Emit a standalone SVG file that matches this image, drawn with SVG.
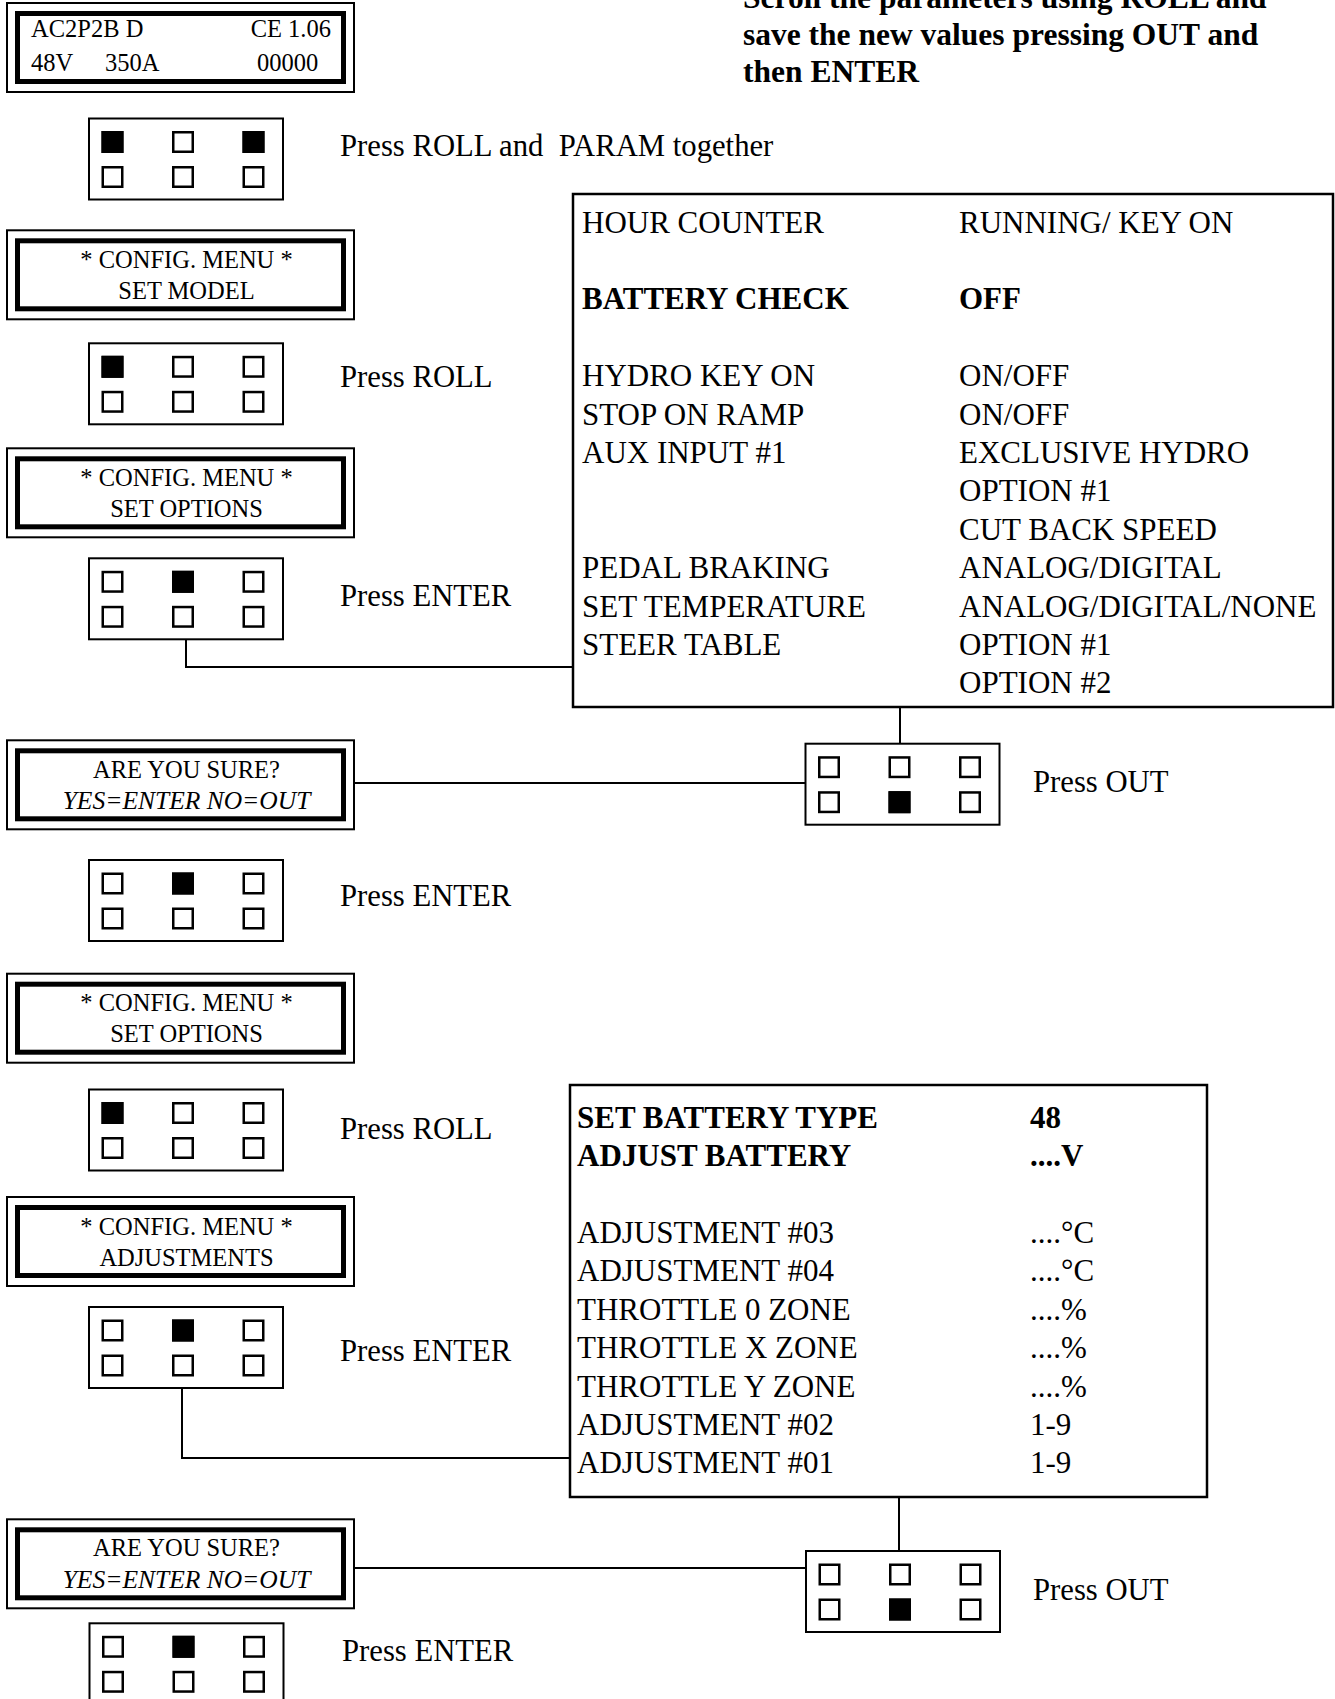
<svg xmlns="http://www.w3.org/2000/svg" xmlns:xlink="http://www.w3.org/1999/xlink" width="1335" height="1699" viewBox="0 0 1335 1699">
<style>
.t{font-family:"Liberation Serif","Times New Roman",serif;fill:#000}
.lcd{font-size:24.5px;text-anchor:middle}
.lcd1{font-size:24.5px}
.it{font-style:italic;font-size:25.5px}
.lbl{font-size:30.7px}
.hdr{font-size:31.5px;font-weight:bold}
.tb{font-size:31px}
.tb2{font-size:31px}
.b{font-weight:bold}
.thin{fill:none;stroke:#000;stroke-width:2}
.thick{fill:none;stroke:#000;stroke-width:5}
.sq{fill:#fff;stroke:#000;stroke-width:2.5}
.on{fill:#000}
.box{fill:#fff;stroke:#000;stroke-width:2.5}
.conn{fill:none;stroke:#000;stroke-width:2}
</style>
<defs>
<g id="lcdframe">
<rect class="thin" x="7" y="1" width="347" height="89"/>
<rect class="thick" x="17.5" y="11.5" width="326" height="68"/>
</g>
<g id="pad">
<rect class="thin" x="1" y="1" width="194" height="81" fill="#fff"/>
<rect class="sq" x="14.75" y="14.75" width="19.5" height="19.5"/>
<rect class="sq" x="85.25" y="14.75" width="19.5" height="19.5"/>
<rect class="sq" x="155.75" y="14.75" width="19.5" height="19.5"/>
<rect class="sq" x="14.75" y="49.75" width="19.5" height="19.5"/>
<rect class="sq" x="85.25" y="49.75" width="19.5" height="19.5"/>
<rect class="sq" x="155.75" y="49.75" width="19.5" height="19.5"/>
</g>
</defs>
<rect width="1335" height="1699" fill="#fff"/>

<g id="connectors">
<path class="conn" d="M186 640 V667 H573"/>
<path class="conn" d="M900 707 V743"/>
<path class="conn" d="M354 783 H805"/>
<path class="conn" d="M182 1389 V1458 H570"/>
<path class="conn" d="M899 1497 V1550"/>
<path class="conn" d="M354 1568 H805"/>
</g>

<g id="header" class="t hdr">
<text x="743" y="8">Scroll the parameters using ROLL and</text>
<text x="743" y="45">save the new values pressing OUT and</text>
<text x="743" y="82">then ENTER</text>
</g>

<g id="lcd1">
<use xlink:href="#lcdframe" href="#lcdframe" y="2"/>
<text class="t lcd1" x="31" y="37">AC2P2B D</text>
<text class="t lcd1" x="331" y="37" text-anchor="end">CE 1.06</text>
<text class="t lcd1" x="31" y="71">48V</text>
<text class="t lcd1" x="105" y="71">350A</text>
<text class="t lcd1" x="257" y="71">00000</text>
</g>

<g id="pad1">
<use xlink:href="#pad" href="#pad" x="88" y="117.5"/>
<rect class="on" x="101.5" y="131" width="22" height="22"/>
<rect class="on" x="242.5" y="131" width="22" height="22"/>
<text class="t lbl" x="340" y="156" xml:space="preserve" style="white-space:pre">Press ROLL and  PARAM together</text>
</g>

<g id="lcd2">
<use xlink:href="#lcdframe" href="#lcdframe" y="229.3"/>
<text class="t lcd" x="186.5" y="267.8">* CONFIG. MENU *</text>
<text class="t lcd" x="186.5" y="298.8">SET MODEL</text>
</g>

<g id="pad2">
<use xlink:href="#pad" href="#pad" x="88" y="342.3"/>
<rect class="on" x="101.5" y="355.8" width="22" height="22"/>
<text class="t lbl" x="340" y="387">Press ROLL</text>
</g>

<g id="lcd3">
<use xlink:href="#lcdframe" href="#lcdframe" y="447.3"/>
<text class="t lcd" x="186.5" y="485.8">* CONFIG. MENU *</text>
<text class="t lcd" x="186.5" y="516.8">SET OPTIONS</text>
</g>

<g id="pad3">
<use xlink:href="#pad" href="#pad" x="88" y="557.3"/>
<rect class="on" x="172" y="570.8" width="22" height="22"/>
<text class="t lbl" x="340" y="606">Press ENTER</text>
</g>

<g id="table1">
<rect class="box" x="573" y="194" width="760" height="513"/>
<g class="t tb">
<text x="582" y="232.5">HOUR COUNTER</text>
<text x="959" y="232.5">RUNNING/ KEY ON</text>
<text x="582" y="309.3" class="b">BATTERY CHECK</text>
<text x="959" y="309.3" class="b">OFF</text>
<text x="582" y="386.1">HYDRO KEY ON</text>
<text x="959" y="386.1">ON/OFF</text>
<text x="582" y="424.5">STOP ON RAMP</text>
<text x="959" y="424.5">ON/OFF</text>
<text x="582" y="462.9">AUX INPUT #1</text>
<text x="959" y="462.9">EXCLUSIVE HYDRO</text>
<text x="959" y="501.3">OPTION #1</text>
<text x="959" y="539.7">CUT BACK SPEED</text>
<text x="582" y="578.1">PEDAL BRAKING</text>
<text x="959" y="578.1">ANALOG/DIGITAL</text>
<text x="582" y="616.5">SET TEMPERATURE</text>
<text x="959" y="616.5">ANALOG/DIGITAL/NONE</text>
<text x="582" y="654.9">STEER TABLE</text>
<text x="959" y="654.9">OPTION #1</text>
<text x="959" y="693.3">OPTION #2</text>
</g>
</g>

<g id="lcd4">
<use xlink:href="#lcdframe" href="#lcdframe" y="739.3"/>
<text class="t lcd" x="186.5" y="777.8">ARE YOU SURE?</text>
<text class="t lcd it" x="186.5" y="808.8">YES=ENTER NO=OUT</text>
</g>

<g id="padout1">
<use xlink:href="#pad" href="#pad" x="804.5" y="742.7"/>
<rect class="on" x="888.5" y="791.2" width="22" height="22"/>
<text class="t lbl" x="1033" y="792">Press OUT</text>
</g>

<g id="pad4">
<use xlink:href="#pad" href="#pad" x="88" y="859"/>
<rect class="on" x="172" y="872.5" width="22" height="22"/>
<text class="t lbl" x="340" y="906">Press ENTER</text>
</g>

<g id="lcd5">
<use xlink:href="#lcdframe" href="#lcdframe" y="972.7"/>
<text class="t lcd" x="186.5" y="1011.2">* CONFIG. MENU *</text>
<text class="t lcd" x="186.5" y="1042.2">SET OPTIONS</text>
</g>

<g id="pad5">
<use xlink:href="#pad" href="#pad" x="88" y="1088.5"/>
<rect class="on" x="101.5" y="1102" width="22" height="22"/>
<text class="t lbl" x="340" y="1139">Press ROLL</text>
</g>

<g id="table2">
<rect class="box" x="570" y="1085" width="637" height="412"/>
<g class="t tb2">
<text x="577" y="1128.3" class="b">SET BATTERY TYPE</text>
<text x="1030" y="1128.3" class="b">48</text>
<text x="577" y="1166" class="b">ADJUST BATTERY</text>
<text x="1030" y="1166" class="b">....V</text>
<text x="577" y="1242.7">ADJUSTMENT #03</text>
<text x="1030" y="1242.7">....°C</text>
<text x="577" y="1281">ADJUSTMENT #04</text>
<text x="1030" y="1281">....°C</text>
<text x="577" y="1319.5">THROTTLE 0 ZONE</text>
<text x="1030" y="1319.5">....%</text>
<text x="577" y="1358">THROTTLE X ZONE</text>
<text x="1030" y="1358">....%</text>
<text x="577" y="1396.5">THROTTLE Y ZONE</text>
<text x="1030" y="1396.5">....%</text>
<text x="577" y="1434.5">ADJUSTMENT #02</text>
<text x="1030" y="1434.5">1-9</text>
<text x="577" y="1472.5">ADJUSTMENT #01</text>
<text x="1030" y="1472.5">1-9</text>
</g>
</g>

<g id="lcd6">
<use xlink:href="#lcdframe" href="#lcdframe" y="1196"/>
<text class="t lcd" x="186.5" y="1234.5">* CONFIG. MENU *</text>
<text class="t lcd" x="186.5" y="1265.5">ADJUSTMENTS</text>
</g>

<g id="pad6">
<use xlink:href="#pad" href="#pad" x="88" y="1306"/>
<rect class="on" x="172" y="1319.5" width="22" height="22"/>
<text class="t lbl" x="340" y="1361">Press ENTER</text>
</g>

<g id="lcd7">
<use xlink:href="#lcdframe" href="#lcdframe" y="1518.3"/>
<text class="t lcd" x="186.5" y="1556.3">ARE YOU SURE?</text>
<text class="t lcd it" x="186.5" y="1587.5">YES=ENTER NO=OUT</text>
</g>

<g id="padout2">
<use xlink:href="#pad" href="#pad" x="805" y="1550"/>
<rect class="on" x="889" y="1598.5" width="22" height="22"/>
<text class="t lbl" x="1033" y="1600">Press OUT</text>
</g>

<g id="pad7">
<use xlink:href="#pad" href="#pad" x="88.5" y="1622.3"/>
<rect class="on" x="172.5" y="1635.8" width="22" height="22"/>
<text class="t lbl" x="342" y="1661">Press ENTER</text>
</g>
</svg>
